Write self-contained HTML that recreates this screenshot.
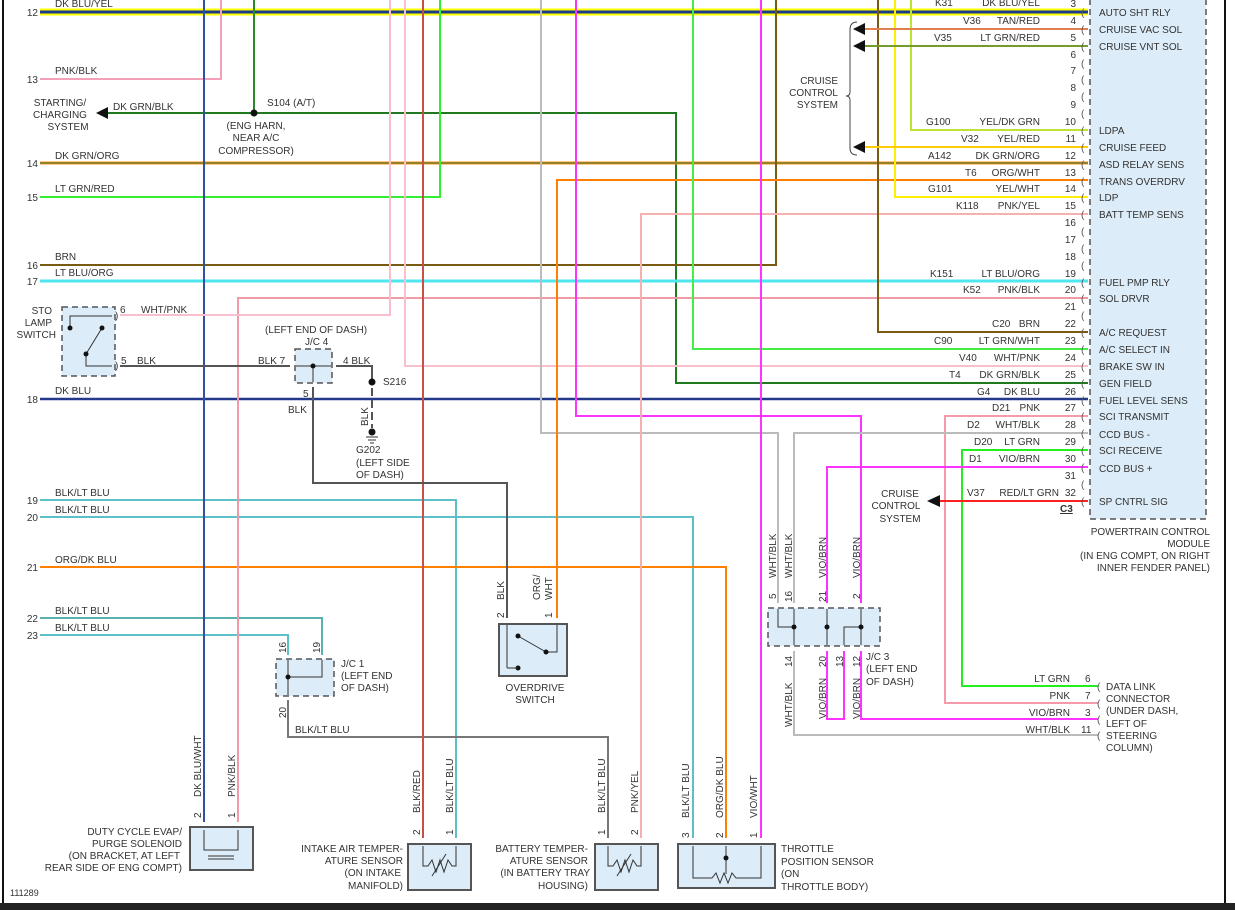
<!DOCTYPE html>
<html><head><meta charset="utf-8"><style>
html,body{margin:0;padding:0;background:#fff;}
svg{display:block;font-family:"Liberation Sans",sans-serif;font-size:10px;fill:#333;}
.w{fill:none;stroke-width:2;}
.b{fill:#dcecf8;stroke:#555;stroke-width:2;}
.d{fill:#dcecf8;stroke:#555;stroke-width:1.5;stroke-dasharray:6,4;}
.e{text-anchor:end;}
.m{text-anchor:middle;}
</style></head><body>
<svg width="1235" height="910" viewBox="0 0 1235 910">
<rect width="1235" height="910" fill="#fff"/>
<!-- PCM box -->
<rect x="1090" y="-5" width="116" height="524" class="d"/>
<!-- frame -->
<line x1="3" y1="0" x2="3" y2="904" stroke="#111" stroke-width="2"/>
<line x1="1225" y1="0" x2="1225" y2="904" stroke="#111" stroke-width="2"/>
<rect x="0" y="903" width="1235" height="7" fill="#222"/>

<!-- wires -->
<line x1="40" y1="12" x2="1088" y2="12" stroke="#ffff00" stroke-width="7"/>
<line x1="40" y1="12" x2="1088" y2="12" stroke="#1c3a8c" stroke-width="3"/>
<polyline class="w" stroke="#f4a0b8" points="40,79 221,79 221,0"/>
<polyline class="w" stroke="#2a8a2a" points="254,0 254,113"/>
<polyline class="w" stroke="#1f7a1f" points="108,113 676,113 676,383 1088,383"/>
<polygon points="96,113 108,107 108,119" fill="#111"/>
<circle cx="254" cy="113" r="3.5" fill="#111"/>
<line x1="40" y1="163" x2="1088" y2="163" stroke="#ff8c1a" stroke-width="3"/>
<line x1="40" y1="163" x2="1088" y2="163" stroke="#2a7a2a" stroke-width="1"/>
<polyline class="w" stroke="#33ee33" points="40,197 440,197 440,0"/>
<polyline class="w" stroke="#7a5a10" points="40,265 776,265 776,0"/>
<line x1="40" y1="281" x2="1088" y2="281" stroke="#4fe6f0" stroke-width="3"/>
<line x1="40" y1="399" x2="1088" y2="399" stroke="#23398c" stroke-width="2.5"/>
<polyline class="w" stroke="#5bc0c8" points="40,500 456,500 456,838"/>
<polyline class="w" stroke="#5bc0c8" points="40,517 693,517 693,838"/>
<polyline class="w" stroke="#ff8000" points="40,567 726,567 726,838"/>
<polyline class="w" stroke="#5bb0b0" points="40,618 322,618 322,655"/>
<polyline class="w" stroke="#5bc0c8" points="40,635 288,635 288,655"/>
<polyline class="w" stroke="#777" points="288,700 288,737 608,737 608,838"/>
<polyline class="w" stroke="#3050a0" points="204,0 204,822"/>
<polyline class="w" stroke="#f09aa8" points="1088,298 238,298 238,822"/>
<polyline class="w" stroke="#f8c0cc" points="390,0 390,315 120,315"/>
<polyline class="w" stroke="#f8c0cc" points="405,0 405,366 1088,366"/>
<polyline class="w" stroke="#c8504a" points="423,0 423,838"/>
<polyline class="w" stroke="#bbb" points="541,0 541,433 778,433 778,603"/>
<polyline class="w" stroke="#ff8000" points="1088,180 557,180 557,618"/>
<polyline class="w" stroke="#ff33ff" points="576,0 576,416 861,416 861,603"/>
<polyline class="w" stroke="#f5b0b0" points="1088,214 641,214 641,838"/>
<polyline class="w" stroke="#44ee44" points="693,0 693,349 1088,349"/>
<polyline class="w" stroke="#ff33ff" points="761,0 761,838"/>
<polyline class="w" stroke="#7a5a10" points="878,0 878,332 1088,332"/>
<polyline class="w" stroke="#ffee00" points="895,0 895,197 1088,197"/>
<polyline class="w" stroke="#bde433" points="911,0 911,130 1088,130"/>
<polyline class="w" stroke="#e08050" points="865,29 1088,29"/>
<polyline class="w" stroke="#33dd33" points="865,46 1088,46"/>
<line x1="865" y1="46" x2="1088" y2="46" stroke="#e03020" stroke-width="0.8"/>
<polyline class="w" stroke="#ffcc00" points="865,147 1088,147"/>
<polygon points="853,29 865,23 865,35" fill="#111"/>
<polygon points="853,46 865,40 865,52" fill="#111"/>
<polygon points="853,147 865,141 865,153" fill="#111"/>
<path d="M857,22 Q850,22 850,30 L850,92 Q850,96 846,96 Q850,96 850,100 L850,148 Q850,155 857,155" fill="none" stroke="#444" stroke-width="1"/>
<polyline class="w" stroke="#f59aaa" points="1088,416 945,416 945,703 1098,703"/>
<polyline class="w" stroke="#bbb" points="1088,433 794,433 794,603"/>
<polyline class="w" stroke="#bbb" points="794,651 794,735 1098,735"/>
<polyline class="w" stroke="#22ee22" stroke-width="3" fill="none" points="1088,450 962,450 962,686 1098,686"/>
<polyline class="w" stroke="#ff33ff" points="1088,467 827,467 827,603"/>
<polyline class="w" stroke="#ff2020" points="940,501 1088,501"/>
<polygon points="927,501 940,495 940,507" fill="#111"/>
<polyline class="w" stroke="#ff33ff" points="827,651 827,719 844,719 844,651"/>
<polyline class="w" stroke="#ff33ff" points="861,651 861,719 1098,719"/>
<polyline class="w" stroke="#555" points="120,366 290,366"/>
<polyline class="w" stroke="#555" points="336,366 372,366 372,382"/>
<circle cx="372" cy="382" r="3.5" fill="#111"/>
<line x1="372" y1="388" x2="372" y2="428" stroke="#555" stroke-width="2" stroke-dasharray="8,4"/>
<circle cx="372" cy="432" r="3.5" fill="#111"/>
<line x1="366" y1="437" x2="378" y2="437" stroke="#333"/><line x1="368" y1="440" x2="376" y2="440" stroke="#333"/><line x1="370" y1="443" x2="374" y2="443" stroke="#333"/>
<polyline class="w" stroke="#555" points="313,387 313,483 507,483 507,618"/>

<!-- PCM pin brackets & numbers -->
<g font-size="10">
<text x="1076" y="7" class="e">3</text><text x="1076" y="24" class="e">4</text><text x="1076" y="41" class="e">5</text><text x="1076" y="58" class="e">6</text><text x="1076" y="74" class="e">7</text><text x="1076" y="91" class="e">8</text><text x="1076" y="108" class="e">9</text><text x="1076" y="125" class="e">10</text><text x="1076" y="142" class="e">11</text><text x="1076" y="159" class="e">12</text><text x="1076" y="176" class="e">13</text><text x="1076" y="192" class="e">14</text><text x="1076" y="209" class="e">15</text><text x="1076" y="226" class="e">16</text><text x="1076" y="243" class="e">17</text><text x="1076" y="260" class="e">18</text><text x="1076" y="277" class="e">19</text><text x="1076" y="293" class="e">20</text><text x="1076" y="310" class="e">21</text><text x="1076" y="327" class="e">22</text><text x="1076" y="344" class="e">23</text><text x="1076" y="361" class="e">24</text><text x="1076" y="378" class="e">25</text><text x="1076" y="395" class="e">26</text><text x="1076" y="411" class="e">27</text><text x="1076" y="428" class="e">28</text><text x="1076" y="445" class="e">29</text><text x="1076" y="462" class="e">30</text><text x="1076" y="479" class="e">31</text><text x="1076" y="496" class="e">32</text>
<g fill="#555"><text x="1081" y="16">(</text><text x="1081" y="33">(</text><text x="1081" y="50">(</text><text x="1081" y="67">(</text><text x="1081" y="83">(</text><text x="1081" y="100">(</text><text x="1081" y="117">(</text><text x="1081" y="134">(</text><text x="1081" y="151">(</text><text x="1081" y="168">(</text><text x="1081" y="185">(</text><text x="1081" y="201">(</text><text x="1081" y="218">(</text><text x="1081" y="235">(</text><text x="1081" y="252">(</text><text x="1081" y="269">(</text><text x="1081" y="286">(</text><text x="1081" y="302">(</text><text x="1081" y="319">(</text><text x="1081" y="336">(</text><text x="1081" y="353">(</text><text x="1081" y="370">(</text><text x="1081" y="387">(</text><text x="1081" y="404">(</text><text x="1081" y="420">(</text><text x="1081" y="437">(</text><text x="1081" y="454">(</text><text x="1081" y="471">(</text><text x="1081" y="488">(</text><text x="1081" y="505">(</text></g>
<text x="1060" y="512" text-decoration="underline" font-weight="bold">C3</text>
<!-- codes / colors -->
<text x="935" y="6">K31</text><text x="1040" y="6" class="e">DK BLU/YEL</text>
<text x="963" y="24">V36</text><text x="1040" y="24" class="e">TAN/RED</text>
<text x="934" y="41">V35</text><text x="1040" y="41" class="e">LT GRN/RED</text>
<text x="926" y="125">G100</text><text x="1040" y="125" class="e">YEL/DK GRN</text>
<text x="961" y="142">V32</text><text x="1040" y="142" class="e">YEL/RED</text>
<text x="928" y="159">A142</text><text x="1040" y="159" class="e">DK GRN/ORG</text>
<text x="965" y="176">T6</text><text x="1040" y="176" class="e">ORG/WHT</text>
<text x="928" y="192">G101</text><text x="1040" y="192" class="e">YEL/WHT</text>
<text x="956" y="209">K118</text><text x="1040" y="209" class="e">PNK/YEL</text>
<text x="930" y="277">K151</text><text x="1040" y="277" class="e">LT BLU/ORG</text>
<text x="963" y="293">K52</text><text x="1040" y="293" class="e">PNK/BLK</text>
<text x="992" y="327">C20</text><text x="1040" y="327" class="e">BRN</text>
<text x="934" y="344">C90</text><text x="1040" y="344" class="e">LT GRN/WHT</text>
<text x="959" y="361">V40</text><text x="1040" y="361" class="e">WHT/PNK</text>
<text x="949" y="378">T4</text><text x="1040" y="378" class="e">DK GRN/BLK</text>
<text x="977" y="395">G4</text><text x="1040" y="395" class="e">DK BLU</text>
<text x="992" y="411">D21</text><text x="1040" y="411" class="e">PNK</text>
<text x="967" y="428">D2</text><text x="1040" y="428" class="e">WHT/BLK</text>
<text x="974" y="445">D20</text><text x="1040" y="445" class="e">LT GRN</text>
<text x="969" y="462">D1</text><text x="1040" y="462" class="e">VIO/BRN</text>
<text x="967" y="496">V37</text><text x="1059" y="496" class="e">RED/LT GRN</text>
<!-- functions -->
<text x="1099" y="16">AUTO SHT RLY</text><text x="1099" y="33">CRUISE VAC SOL</text><text x="1099" y="50">CRUISE VNT SOL</text>
<text x="1099" y="134">LDPA</text><text x="1099" y="151">CRUISE FEED</text><text x="1099" y="168">ASD RELAY SENS</text><text x="1099" y="185">TRANS OVERDRV</text><text x="1099" y="201">LDP</text><text x="1099" y="218">BATT TEMP SENS</text>
<text x="1099" y="286">FUEL PMP RLY</text><text x="1099" y="302">SOL DRVR</text><text x="1099" y="336">A/C REQUEST</text><text x="1099" y="353">A/C SELECT IN</text><text x="1099" y="370">BRAKE SW IN</text><text x="1099" y="387">GEN FIELD</text><text x="1099" y="404">FUEL LEVEL SENS</text><text x="1099" y="420">SCI TRANSMIT</text><text x="1099" y="438">CCD BUS -</text><text x="1099" y="454">SCI RECEIVE</text><text x="1099" y="472">CCD BUS +</text><text x="1099" y="505">SP CNTRL SIG</text>
<text x="1210" y="535" class="e">POWERTRAIN CONTROL</text><text x="1210" y="547" class="e">MODULE</text><text x="1210" y="559" class="e">(IN ENG COMPT, ON RIGHT</text><text x="1210" y="571" class="e">INNER FENDER PANEL)</text>
<text x="838" y="84" class="e">CRUISE</text><text x="838" y="96" class="e">CONTROL</text><text x="838" y="108" class="e">SYSTEM</text>
<text x="900" y="497" class="m">CRUISE</text><text x="896" y="509" class="m">CONTROL</text><text x="900" y="522" class="m">SYSTEM</text>

<!-- left -->
<text x="38" y="16" class="e">12</text><text x="38" y="83" class="e">13</text><text x="38" y="167" class="e">14</text><text x="38" y="201" class="e">15</text><text x="38" y="269" class="e">16</text><text x="38" y="285" class="e">17</text><text x="38" y="403" class="e">18</text><text x="38" y="504" class="e">19</text><text x="38" y="521" class="e">20</text><text x="38" y="571" class="e">21</text><text x="38" y="622" class="e">22</text><text x="38" y="639" class="e">23</text>
<text x="55" y="7">DK BLU/YEL</text><text x="55" y="74">PNK/BLK</text><text x="55" y="159">DK GRN/ORG</text><text x="55" y="192">LT GRN/RED</text><text x="55" y="260">BRN</text><text x="55" y="276">LT BLU/ORG</text><text x="55" y="394">DK BLU</text><text x="55" y="496">BLK/LT BLU</text><text x="55" y="513">BLK/LT BLU</text><text x="55" y="563">ORG/DK BLU</text><text x="55" y="614">BLK/LT BLU</text><text x="55" y="631">BLK/LT BLU</text>
<text x="60" y="106" class="m">STARTING/</text><text x="60" y="118" class="m">CHARGING</text><text x="68" y="130" class="m">SYSTEM</text>
<text x="113" y="110">DK GRN/BLK</text><text x="267" y="106">S104  (A/T)</text>
<text x="256" y="129" class="m">(ENG HARN,</text><text x="256" y="141" class="m">NEAR A/C</text><text x="256" y="154" class="m">COMPRESSOR)</text>
<!-- STO -->
<rect x="62" y="307" width="53" height="69" class="d"/>
<polyline fill="none" stroke="#333" stroke-width="1" points="70,328 70,316 112,316"/>
<polyline fill="none" stroke="#333" stroke-width="1" points="86,354 86,366 112,366"/>
<line x1="86" y1="354" x2="102" y2="328" stroke="#333" stroke-width="1"/>
<circle cx="70" cy="328" r="2.5" fill="#111"/><circle cx="86" cy="354" r="2.5" fill="#111"/><circle cx="102" cy="328" r="2.5" fill="#111"/>
<text x="52" y="314" class="e">STO</text><text x="52" y="326" class="e">LAMP</text><text x="56" y="338" class="e">SWITCH</text>
<text x="115" y="319">)</text><text x="115" y="369">)</text>
<text x="120" y="313">6</text><text x="141" y="313">WHT/PNK</text><text x="121" y="364">5</text><text x="137" y="364">BLK</text>
<!-- JC4 -->
<rect x="295" y="349" width="37" height="34" class="d"/>
<line x1="296" y1="366" x2="331" y2="366" stroke="#333"/><line x1="313" y1="366" x2="313" y2="382" stroke="#333"/><circle cx="313" cy="366" r="2.5" fill="#111"/>
<text x="265" y="333">(LEFT END OF DASH)</text><text x="305" y="345">J/C 4</text>
<text x="258" y="364">BLK 7</text><text x="343" y="364">4  BLK</text><text x="383" y="385">S216</text><text x="303" y="397">5</text><text x="288" y="413">BLK</text>
<text transform="translate(368,426) rotate(-90)">BLK</text>
<text x="356" y="453">G202</text><text x="356" y="466">(LEFT SIDE</text><text x="356" y="478">OF DASH)</text>
<!-- JC1 -->
<rect x="276" y="659" width="58" height="37" class="d"/>
<polyline fill="none" stroke="#333" points="288,660 288,695"/><polyline fill="none" stroke="#333" points="288,677 322,677 322,660"/><circle cx="288" cy="677" r="2.5" fill="#111"/>
<text transform="translate(286,653) rotate(-90)">16</text><text transform="translate(320,653) rotate(-90)">19</text><text transform="translate(286,718) rotate(-90)">20</text>
<text x="341" y="667">J/C 1</text><text x="341" y="679">(LEFT END</text><text x="341" y="691">OF DASH)</text>
<text x="295" y="733">BLK/LT BLU</text>
<!-- overdrive -->
<rect x="499" y="624" width="68" height="52" class="b"/>
<polyline fill="none" stroke="#333" points="507,625 507,668"/><polyline fill="none" stroke="#333" points="557,625 557,652 546,652"/>
<line x1="518" y1="636" x2="546" y2="652" stroke="#333"/><circle cx="518" cy="636" r="2.5" fill="#111"/><circle cx="546" cy="652" r="2.5" fill="#111"/><circle cx="518" cy="668" r="2.5" fill="#111"/><line x1="507" y1="668" x2="518" y2="668" stroke="#333"/>
<text transform="translate(504,600) rotate(-90)">BLK</text><text transform="translate(504,618) rotate(-90)">2</text>
<text transform="translate(540,600) rotate(-90)">ORG/</text><text transform="translate(552,600) rotate(-90)">WHT</text><text transform="translate(552,618) rotate(-90)">1</text>
<text x="535" y="691" class="m">OVERDRIVE</text><text x="535" y="703" class="m">SWITCH</text>
<!-- JC3 -->
<rect x="768" y="608" width="112" height="38" class="d"/>
<g stroke="#333" fill="none"><polyline points="778,609 778,627 794,627"/><line x1="794" y1="609" x2="794" y2="645"/><line x1="827" y1="609" x2="827" y2="645"/><line x1="861" y1="609" x2="861" y2="645"/><polyline points="844,645 844,627 861,627"/></g>
<circle cx="794" cy="627" r="2.5" fill="#111"/><circle cx="827" cy="627" r="2.5" fill="#111"/><circle cx="861" cy="627" r="2.5" fill="#111"/>
<text transform="translate(776,578) rotate(-90)">WHT/BLK</text><text transform="translate(792,578) rotate(-90)">WHT/BLK</text><text transform="translate(826,578) rotate(-90)">VIO/BRN</text><text transform="translate(860,578) rotate(-90)">VIO/BRN</text>
<text transform="translate(776,599) rotate(-90)">5</text><text transform="translate(792,602) rotate(-90)">16</text><text transform="translate(826,602) rotate(-90)">21</text><text transform="translate(860,599) rotate(-90)">2</text>
<text transform="translate(792,667) rotate(-90)">14</text><text transform="translate(826,667) rotate(-90)">20</text><text transform="translate(843,667) rotate(-90)">13</text><text transform="translate(860,667) rotate(-90)">12</text>
<text transform="translate(792,727) rotate(-90)">WHT/BLK</text><text transform="translate(826,719) rotate(-90)">VIO/BRN</text><text transform="translate(860,719) rotate(-90)">VIO/BRN</text>
<text x="866" y="660">J/C 3</text><text x="866" y="672">(LEFT END</text><text x="866" y="685">OF DASH)</text>
<!-- DLC -->
<text x="1070" y="682" class="e">LT GRN</text><text x="1085" y="682">6</text>
<text x="1070" y="699" class="e">PNK</text><text x="1085" y="699">7</text>
<text x="1070" y="716" class="e">VIO/BRN</text><text x="1085" y="716">3</text>
<text x="1070" y="733" class="e">WHT/BLK</text><text x="1081" y="733">11</text>
<g fill="#555"><text x="1097" y="690">(</text><text x="1097" y="707">(</text><text x="1097" y="723">(</text><text x="1097" y="739">(</text></g>
<text x="1106" y="690">DATA LINK</text><text x="1106" y="702">CONNECTOR</text><text x="1106" y="714">(UNDER DASH,</text><text x="1106" y="727">LEFT OF</text><text x="1106" y="739">STEERING</text><text x="1106" y="751">COLUMN)</text>
<!-- bottom components -->
<rect x="190" y="827" width="63" height="43" class="b"/>
<polyline fill="none" stroke="#333" points="204,830 204,850 238,850 238,830"/>
<line x1="208" y1="856" x2="234" y2="856" stroke="#333"/><line x1="208" y1="859" x2="234" y2="859" stroke="#333"/>
<text transform="translate(201,797) rotate(-90)">DK BLU/WHT</text><text transform="translate(235,797) rotate(-90)">PNK/BLK</text>
<text transform="translate(201,818) rotate(-90)">2</text><text transform="translate(235,818) rotate(-90)">1</text>
<text x="182" y="835" class="e">DUTY CYCLE EVAP/</text><text x="182" y="847" class="e">PURGE SOLENOID</text><text x="180" y="859" class="e">(ON BRACKET, AT LEFT</text><text x="182" y="871" class="e">REAR SIDE OF ENG COMPT)</text>
<rect x="408" y="844" width="63" height="46" class="b"/>
<polyline fill="none" stroke="#333" points="423,846 423,866 428,866 432,860 436,872 440,860 444,872 448,860 452,866 456,866 456,846"/>
<line x1="432" y1="876" x2="446" y2="854" stroke="#333"/>
<text transform="translate(420,813) rotate(-90)">BLK/RED</text><text transform="translate(453,813) rotate(-90)">BLK/LT BLU</text>
<text transform="translate(420,835) rotate(-90)">2</text><text transform="translate(453,835) rotate(-90)">1</text>
<text x="403" y="852" class="e">INTAKE AIR TEMPER-</text><text x="403" y="864" class="e">ATURE SENSOR</text><text x="401" y="876" class="e">(ON INTAKE</text><text x="403" y="889" class="e">MANIFOLD)</text>
<rect x="595" y="844" width="63" height="46" class="b"/>
<polyline fill="none" stroke="#333" points="608,846 608,866 613,866 617,860 621,872 625,860 629,872 633,860 637,866 641,866 641,846"/>
<line x1="617" y1="876" x2="631" y2="854" stroke="#333"/>
<text transform="translate(605,813) rotate(-90)">BLK/LT BLU</text><text transform="translate(638,813) rotate(-90)">PNK/YEL</text>
<text transform="translate(605,835) rotate(-90)">1</text><text transform="translate(638,835) rotate(-90)">2</text>
<text x="588" y="852" class="e">BATTERY TEMPER-</text><text x="588" y="864" class="e">ATURE SENSOR</text><text x="590" y="876" class="e">(IN BATTERY TRAY</text><text x="588" y="889" class="e">HOUSING)</text>
<rect x="678" y="844" width="97" height="44" class="b"/>
<polyline fill="none" stroke="#333" points="693,846 693,878 712,878 716,873 720,883 724,873 728,883 732,873 736,878 761,878 761,846"/>
<line x1="726" y1="846" x2="726" y2="874" stroke="#333"/><circle cx="726" cy="858" r="2.5" fill="#111"/>
<text transform="translate(689,818) rotate(-90)">BLK/LT BLU</text><text transform="translate(723,818) rotate(-90)">ORG/DK BLU</text><text transform="translate(757,818) rotate(-90)">VIO/WHT</text>
<text transform="translate(689,838) rotate(-90)">3</text><text transform="translate(723,838) rotate(-90)">2</text><text transform="translate(757,838) rotate(-90)">1</text>
<text x="781" y="852">THROTTLE</text><text x="781" y="865">POSITION SENSOR</text><text x="781" y="877">(ON</text><text x="781" y="890">THROTTLE BODY)</text>
<text x="10" y="896" font-size="9">111289</text>
</g>
</svg>
</body></html>
